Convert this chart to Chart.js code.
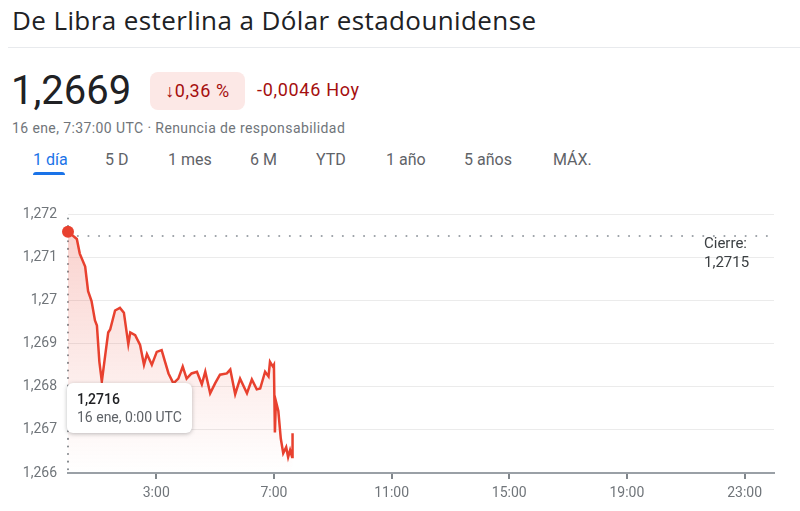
<!DOCTYPE html>
<html>
<head>
<meta charset="utf-8">
<script src="https://cdn.jsdelivr.net/npm/chart.js@4"></script>
<style>
  body { margin: 0; width: 800px; height: 511px; background: #fff; font-family: Roboto, Arial, sans-serif; position: relative; overflow: hidden; }
  .abs { position: absolute; white-space: nowrap; }
  #title { left: 12px; top: 2px; font-family: "Open Sans", Roboto, sans-serif; font-size: 26px; letter-spacing: 0.4px; color: #202124; }
  #sep { left: 8px; right: 0; top: 47px; height: 1px; background: #e8eaed; }
  #price { left: 11px; top: 67px; font-size: 40px; color: #202124; }
  #badge { left: 150px; top: 72px; width: 95px; height: 38px; background: #fce8e6; border-radius: 8px; color: #a50e0e; font-size: 18px; letter-spacing: 0.6px; line-height: 38px; text-align: center; }
  #chg { left: 257px; top: 79px; font-size: 18px; letter-spacing: 0.7px; color: #a50e0e; }
  #sub { left: 12px; top: 120px; font-size: 14px; letter-spacing: 0.4px; color: #70757a; }
  .tab { top: 150px; font-size: 16px; color: #5f6368; }
  .tab.on { color: #1a73e8; }
  #uline { left: 33px; top: 172px; width: 32px; height: 3px; background: #1a73e8; border-radius: 3px 3px 0 0; }
  #wrap { left: 0; top: 195px; width: 800px; height: 316px; }
  #tip { left: 67px; top: 383px; width: 125px; height: 50px; background: #fff; border-radius: 6px; box-shadow: 0 1px 4px rgba(60,64,67,0.35); box-sizing: border-box; padding: 8px 0 0 10px; }
  #tip b { display: block; font-size: 14px; font-weight: 500; color: #202124; }
  #tip span { display: block; font-size: 14px; color: #5f6368; margin-top: 2px; }
  #cierre { left: 704px; top: 234px; font-size: 15px; color: #3c4043; line-height: 19px; }
</style>
</head>
<body>
<div class="abs" id="title">De Libra esterlina a Dólar estadounidense</div>
<div class="abs" id="sep"></div>
<div class="abs" id="price">1,2669</div>
<div class="abs" id="badge">↓0,36 %</div>
<div class="abs" id="chg">-0,0046 Hoy</div>
<div class="abs" id="sub">16 ene, 7:37:00 UTC · Renuncia de responsabilidad</div>
<div class="abs tab on" style="left:33px">1 día</div>
<div class="abs tab" style="left:105px">5 D</div>
<div class="abs tab" style="left:168px">1 mes</div>
<div class="abs tab" style="left:250px">6 M</div>
<div class="abs tab" style="left:316px">YTD</div>
<div class="abs tab" style="left:386px">1 año</div>
<div class="abs tab" style="left:464px">5 años</div>
<div class="abs tab" style="left:553px">MÁX.</div>
<div class="abs" id="uline"></div>
<div class="abs" id="wrap"><canvas id="grafico"></canvas></div>
<div class="abs" id="tip"><b>1,2716</b><span>16 ene, 0:00 UTC</span></div>
<div class="abs" id="cierre">Cierre:<br>1,2715</div>

<script>
// minutos desde 0:00 UTC
const minutos = [0, 18, 24, 35, 41, 48, 55, 59, 64, 69, 76, 82, 86, 96, 106, 114, 123, 127, 137, 147,
  155, 161, 171, 181, 191, 198, 205, 215, 225, 234, 242, 252, 263, 273, 280, 290, 300, 310, 324, 331,
  341, 351, 365, 375, 385, 392, 402, 409, 412, 418, 420, 422, 424, 429, 434, 439, 445, 449, 453, 457, 458];
const cambio = [1.2716, 1.27143, 1.27109, 1.27079, 1.27022, 1.26999, 1.26954, 1.26942, 1.26858, 1.26812,
  1.26874, 1.26926, 1.26933, 1.26977, 1.26983, 1.26972, 1.26899, 1.26926, 1.26920, 1.26897,
  1.26851, 1.26876, 1.26851, 1.26881, 1.26885, 1.26858, 1.26831, 1.26808, 1.26819, 1.26847,
  1.26819, 1.26831, 1.26835, 1.26806, 1.26835, 1.26785, 1.26808, 1.26828, 1.26831, 1.26840,
  1.26783, 1.26819, 1.26785, 1.26817, 1.26794, 1.26796, 1.26835, 1.26824, 1.26858, 1.26847,
  1.26851, 1.26694, 1.26767, 1.26744, 1.26680, 1.26646, 1.26660, 1.26637, 1.26653, 1.26637, 1.26692];
const cierre = 1.2715;
const ticksX = [180, 420, 660, 900, 1140, 1380];
const etiquetasX = ["3:00", "7:00", "11:00", "15:00", "19:00", "23:00"];
const ticksY = [1.266, 1.267, 1.268, 1.269, 1.27, 1.271, 1.272];

const rojo = '#e8412f';
const puntos = minutos.map((m, i) => ({ x: m, y: cambio[i] }));

const lineaVertical = {
  id: 'lineaVertical',
  beforeDatasetsDraw(chart) {
    const { ctx, chartArea, scales } = chart;
    const x = scales.x.getPixelForValue(minutos[0]);
    ctx.save();
    ctx.strokeStyle = '#80868b';
    ctx.lineWidth = 2;
    ctx.lineCap = 'round';
    ctx.setLineDash([0.1, 7.5]);
    ctx.beginPath();
    ctx.moveTo(x, chartArea.top + 4);
    ctx.lineTo(x, chartArea.bottom);
    ctx.stroke();
    ctx.restore();
  }
};

new Chart(document.getElementById('grafico'), {
  type: 'line',
  data: {
    datasets: [{
      label: 'GBP/USD',
      data: puntos,
      borderColor: rojo,
      borderWidth: 2.5,
      tension: 0,
      clip: false,
      fill: 'start',
      backgroundColor: (c) => {
        const area = c.chart.chartArea;
        if (!area) return 'rgba(232,65,47,0.15)';
        const g = c.chart.ctx.createLinearGradient(0, area.top, 0, area.bottom);
        g.addColorStop(0, 'rgba(232,65,47,0.25)');
        g.addColorStop(1, 'rgba(232,65,47,0.0)');
        return g;
      },
      pointRadius: (c) => c.dataIndex === 0 ? 6 : 0,
      pointBackgroundColor: rojo,
      pointBorderWidth: 0
    }, {
      label: 'Cierre',
      data: [{ x: 20, y: cierre }, { x: 1430, y: cierre }],
      borderColor: '#9aa0a6',
      borderWidth: 2,
      borderCapStyle: 'round',
      borderDash: [0.1, 10.5],
      pointRadius: 0,
      fill: false
    }]
  },
  options: {
    responsive: true,
    maintainAspectRatio: false,
    animation: false,
    layout: { padding: { top: 15, right: 26, left: 0, bottom: 0 } },
    plugins: { legend: { display: false }, tooltip: { enabled: false } },
    scales: {
      x: {
        type: 'linear',
        min: 0,
        max: 1440,
        afterBuildTicks: (s) => { s.ticks = ticksX.map(v => ({ value: v })); },
        afterFit: (s) => { s.height = 38; },
        ticks: {
          padding: 6,
          color: '#70757a',
          font: { family: 'Roboto', size: 14 },
          maxRotation: 0,
          callback: (v) => etiquetasX[ticksX.indexOf(v)]
        },
        grid: { drawOnChartArea: false, drawTicks: true, tickLength: 6, color: '#80868b', lineWidth: 2 },
        border: { color: '#9aa0a6', width: 2 }
      },
      y: {
        min: 1.266,
        max: 1.272,
        afterBuildTicks: (s) => { s.ticks = ticksY.map(v => ({ value: v })); },
        afterFit: (s) => { s.width = 68; },
        ticks: {
          padding: 11,
          color: '#70757a',
          font: { family: 'Roboto', size: 14 },
          callback: (v) => String(Number(v.toFixed(3))).replace('.', ',')
        },
        grid: { color: '#ebebeb', lineWidth: 1, drawTicks: false },
        border: { display: false }
      }
    }
  },
  plugins: [lineaVertical]
});
</script>
</body>
</html>
